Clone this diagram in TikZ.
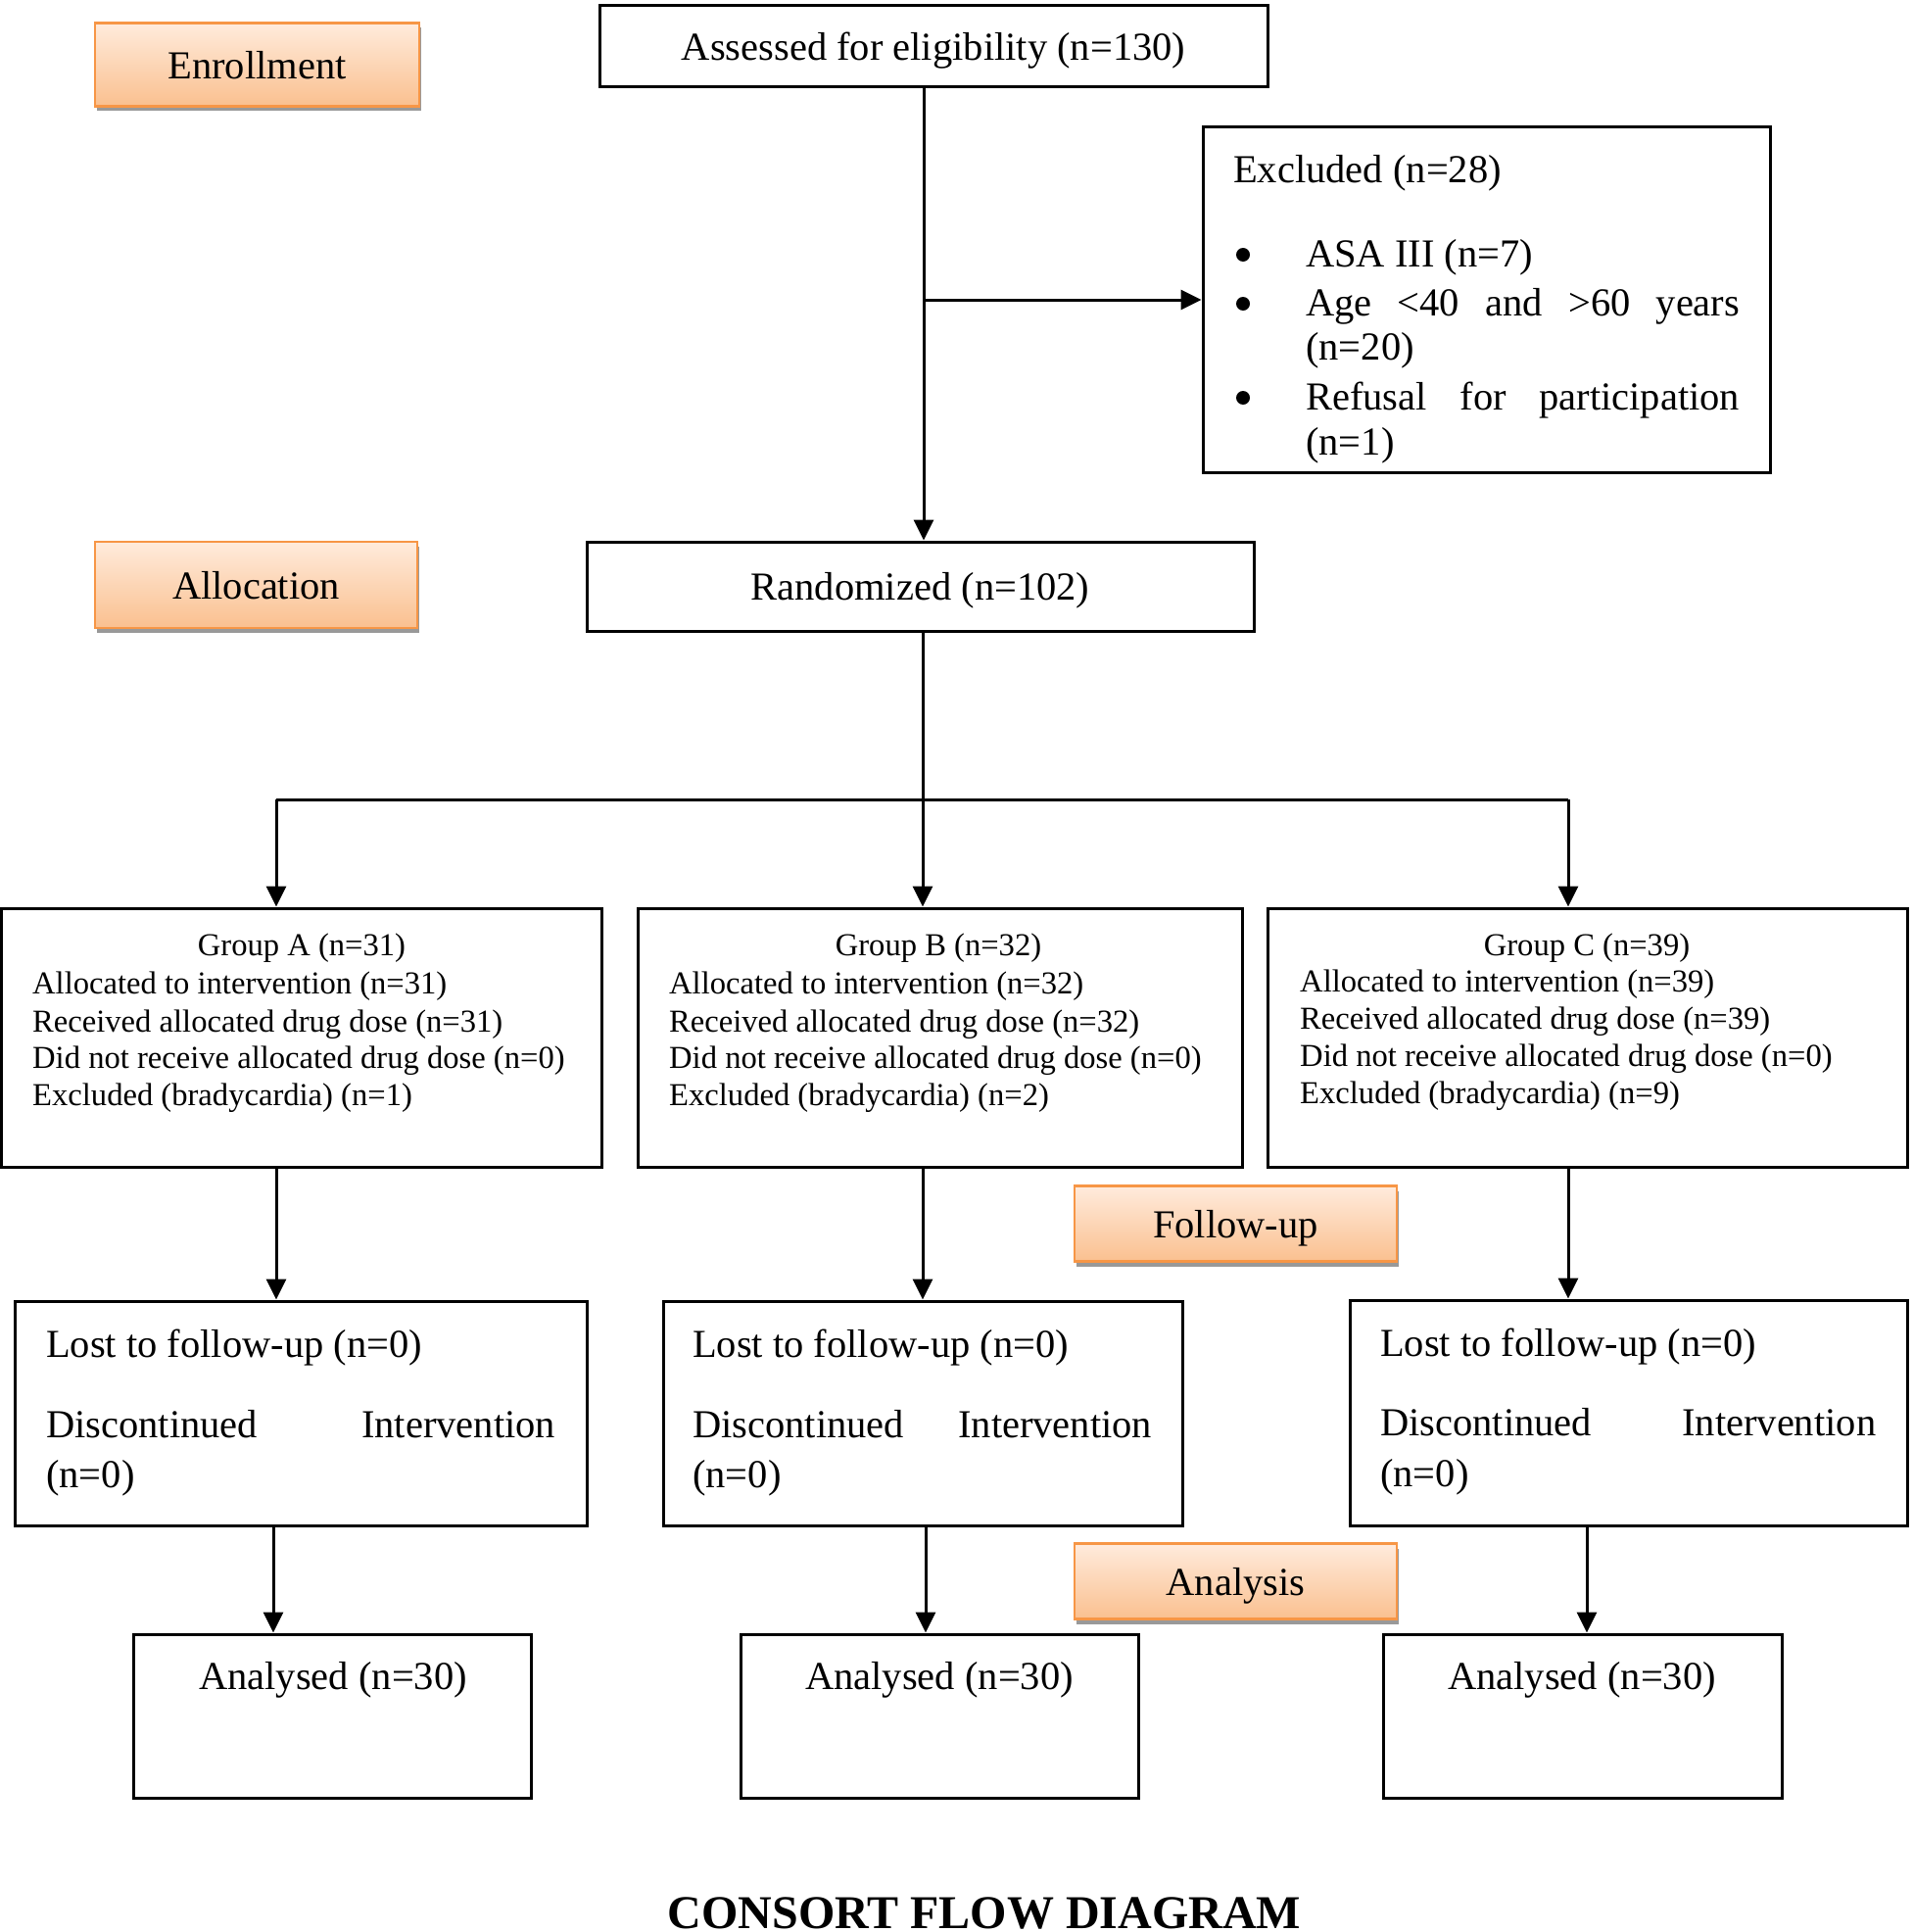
\documentclass[tikz,border=0pt]{standalone}
\usepackage{fontspec}
\setmainfont{Liberation Serif}
\usetikzlibrary{arrows.meta,shadows}
\definecolor{orangeedge}{HTML}{F79646}
\definecolor{peachtop}{HTML}{FFEBDC}
\definecolor{peachbot}{HTML}{FAC08F}
\begin{document}
\begin{tikzpicture}[x=1pt,y=-1pt,
  box/.style={draw=black,line width=3pt,inner sep=0pt},
  lbl/.style={draw=orangeedge,line width=2.5pt,top color=peachtop,bottom color=peachbot,inner sep=0pt,
    drop shadow={shadow xshift=2pt,shadow yshift=-5pt,fill=black!40,opacity=1},
    font=\fontsize{40.5}{47}\selectfont,text height=29pt,text depth=0pt},
  big/.style={font=\fontsize{40.5}{47}\selectfont,inner sep=0pt,text height=36pt,text depth=8pt},
  sml/.style={font=\fontsize{32.6}{38}\selectfont,inner sep=0pt,text height=27pt,text depth=6pt},
  dot/.style={circle,fill=black,inner sep=0pt,minimum size=14pt},
  conn/.style={line width=3pt},
  arr/.style={line width=3pt,-{Triangle[length=21pt,width=20pt]}}]
\useasboundingbox (0,0) rectangle (1952,1972);

% label boxes
\node[lbl,minimum width=331pt,minimum height=85pt] (enroll) at (262.5,66) {Enrollment};
\node[lbl,minimum width=329pt,minimum height=88pt] (alloc) at (261.5,597) {Allocation};
\node[lbl,minimum width=329pt,minimum height=77pt] (followup) at (1261.5,1249) {Follow-up};
\node[lbl,minimum width=329pt,minimum height=77pt] (analysis) at (1261.5,1614) {Analysis};

% main boxes
\node[box,big,minimum width=682pt,minimum height=83pt] (assessed) at (953,47.5) {Assessed for eligibility (n=130)};
\node[box,minimum width=579pt,minimum height=352pt] (excluded) at (1517.5,306) {};
\node[box,big,minimum width=681pt,minimum height=91pt] (rand) at (939.5,598.5) {Randomized (n=102)};

\node[box,minimum width=613pt,minimum height=264pt] (ga) at (307.5,1059) {};
\node[box,minimum width=617pt,minimum height=264pt] (gb) at (959.5,1059) {};
\node[box,minimum width=653pt,minimum height=264pt] (gc) at (1620.5,1059) {};

\node[box,minimum width=584pt,minimum height=229pt] (la) at (307,1442.5) {};
\node[box,minimum width=530pt,minimum height=229pt] (lb) at (942,1442.5) {};
\node[box,minimum width=569pt,minimum height=230pt] (lc) at (1662.5,1442) {};

\node[box,minimum width=406pt,minimum height=167pt] (aa) at (339,1751.5) {};
\node[box,minimum width=406pt,minimum height=167pt] (ab) at (959,1751.5) {};
\node[box,minimum width=407pt,minimum height=167pt] (ac) at (1615.5,1751.5) {};

% excluded text
\node[big,anchor=west] (exc0) at (1259,172) {Excluded (n=28)};
\node[dot] (b1) at (1269,260) {};
\node[dot] (b2) at (1269,310) {};
\node[dot] (b3) at (1269,406) {};
\node[big,anchor=west] (exc1) at (1333,258) {ASA III (n=7)};
\node[big,anchor=west] (exc2) at (1333,308) {\makebox[443pt][s]{Age <40 and >60 years}};
\node[big,anchor=west] (exc3) at (1333,353) {(n=20)};
\node[big,anchor=west] (exc4) at (1333,404) {\makebox[443pt][s]{Refusal for participation}};
\node[big,anchor=west] (exc5) at (1333,450) {(n=1)};

% group texts
\node[sml] (gat) at (308,965) {Group A (n=31)};
\node[sml,anchor=west] (ga1) at (33,1004) {Allocated to intervention (n=31)};
\node[sml,anchor=west] (ga2) at (33,1043) {Received allocated drug dose (n=31)};
\node[sml,anchor=west] (ga3) at (33,1080) {Did not receive allocated drug dose (n=0)};
\node[sml,anchor=west] (ga4) at (33,1118) {Excluded (bradycardia) (n=1)};

\node[sml] (gbt) at (958,965) {Group B (n=32)};
\node[sml,anchor=west] (gb1) at (683,1004) {Allocated to intervention (n=32)};
\node[sml,anchor=west] (gb2) at (683,1043) {Received allocated drug dose (n=32)};
\node[sml,anchor=west] (gb3) at (683,1080) {Did not receive allocated drug dose (n=0)};
\node[sml,anchor=west] (gb4) at (683,1118) {Excluded (bradycardia) (n=2)};

\node[sml] (gct) at (1620,965) {Group C (n=39)};
\node[sml,anchor=west] (gc1) at (1327,1002) {Allocated to intervention (n=39)};
\node[sml,anchor=west] (gc2) at (1327,1040) {Received allocated drug dose (n=39)};
\node[sml,anchor=west] (gc3) at (1327,1078) {Did not receive allocated drug dose (n=0)};
\node[sml,anchor=west] (gc4) at (1327,1116) {Excluded (bradycardia) (n=9)};

% lost texts
\node[big,anchor=west] (la1) at (47,1371) {Lost to follow-up (n=0)};
\node[big,anchor=west] (la2) at (47,1453) {\makebox[520pt][s]{Discontinued Intervention}};
\node[big,anchor=west] (la3) at (47,1504) {(n=0)};
\node[big,anchor=west] (lb1) at (707,1371) {Lost to follow-up (n=0)};
\node[big,anchor=west] (lb2) at (707,1453) {\makebox[469pt][s]{Discontinued Intervention}};
\node[big,anchor=west] (lb3) at (707,1504) {(n=0)};
\node[big,anchor=west] (lc1) at (1409,1370) {Lost to follow-up (n=0)};
\node[big,anchor=west] (lc2) at (1409,1451) {\makebox[506pt][s]{Discontinued Intervention}};
\node[big,anchor=west] (lc3) at (1409,1503) {(n=0)};

% analysed texts
\node[big] (aat) at (340,1710) {Analysed (n=30)};
\node[big] (abt) at (959,1710) {Analysed (n=30)};
\node[big] (act) at (1615,1710) {Analysed (n=30)};

% title
\node[font=\bfseries\fontsize{48}{48}\selectfont,anchor=base,inner sep=0pt] (title) at (1005,1968) {CONSORT FLOW DIAGRAM};

% connectors
\coordinate (xm) at (943,0);
\coordinate (xa) at (282,0);
\coordinate (xb) at (942,0);
\coordinate (xc) at (1601,0);
\coordinate (pa) at (279,0);
\coordinate (pb) at (945,0);
\coordinate (pc) at (1620,0);
\coordinate (ja) at (282,816);
\coordinate (jb) at (942,816);
\coordinate (jc) at (1601,816);

\draw[arr] (assessed.south -| xm) -- (rand.north -| xm);
\draw[arr] (excluded.west -| xm) -- (excluded.west);
\draw[conn] (rand.south -| xb) -- (jb);
\draw[conn] (ja) -- (jc);
\draw[arr] (ja) -- (ga.north -| ja);
\draw[arr] (jb) -- (gb.north -| jb);
\draw[arr] (jc) -- (gc.north -| jc);
\draw[arr] (ga.south -| xa) -- (la.north -| xa);
\draw[arr] (gb.south -| xb) -- (lb.north -| xb);
\draw[arr] (gc.south -| xc) -- (lc.north -| xc);
\draw[arr] (la.south -| pa) -- (aa.north -| pa);
\draw[arr] (lb.south -| pb) -- (ab.north -| pb);
\draw[arr] (lc.south -| pc) -- (ac.north -| pc);
\end{tikzpicture}
\end{document}
